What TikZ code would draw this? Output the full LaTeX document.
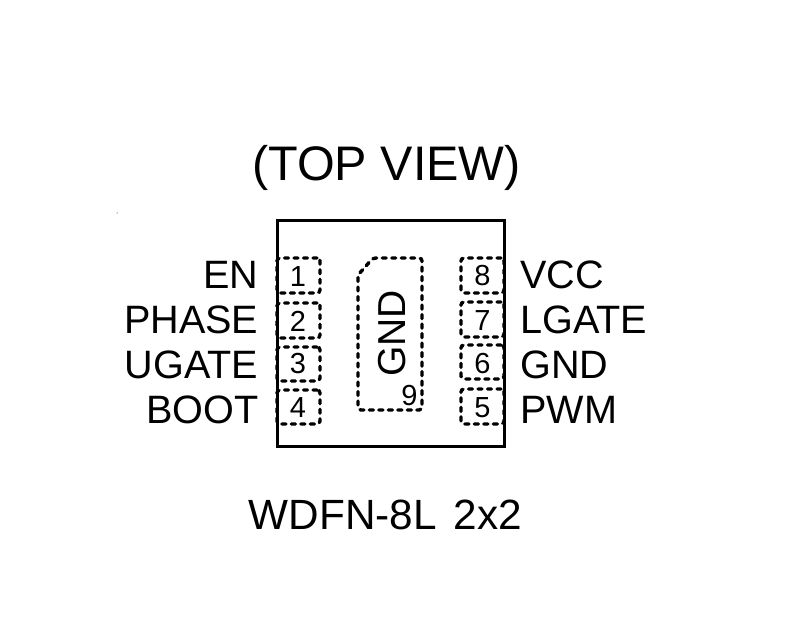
\documentclass[tikz,border=0pt]{standalone}
\usepackage{fontspec}
\setmainfont{Liberation Sans}
\tikzset{
  padbox/.style={draw,line width=3.4pt,line cap=round,dash pattern=on 4pt off 5.5pt,rounded corners=3pt,minimum width=43pt,inner sep=0pt},
  padnum/.style={font=\fontsize{29}{31}\selectfont,inner sep=0pt,anchor=base},
  lab/.style={font=\fontsize{39.6}{43}\selectfont,inner sep=0pt},
  leftlab/.style={lab,anchor=base east},
  rightlab/.style={lab,anchor=base west},
  big/.style={font=\fontsize{48.5}{52}\selectfont,inner sep=0pt,anchor=base}
}
\begin{document}
\begin{tikzpicture}[x=1pt,y=-1pt]
\useasboundingbox (0,0) rectangle (803,620);
\fill (117,213) circle (0.5pt);
% dashed pads
\node[padbox,minimum height=35pt] (p1) at (298.5,275.5) {};
\node[padbox,minimum height=35pt] (p2) at (298.5,320.5) {};
\node[padbox,minimum height=34pt] (p3) at (298.5,364) {};
\node[padbox,minimum height=34pt] (p4) at (298.5,407) {};
\node[padbox,minimum height=35pt] (p8) at (482.5,275.5) {};
\node[padbox,minimum height=35pt] (p7) at (482.5,319.5) {};
\node[padbox,minimum height=34pt] (p6) at (482.5,362) {};
\node[padbox,minimum height=35pt] (p5) at (482.5,406.5) {};
\draw[line width=3.4pt,line cap=round,dash pattern=on 4pt off 5.5pt,rounded corners=3pt]
  (358,275) -- (373,258) -- (422,258) -- (422,410) -- (358,410) -- cycle;
% package outline
\node[draw,line width=3pt,minimum width=227pt,minimum height=225pt,inner sep=0pt] (pkg) at (390.5,333.5) {};
% pad numbers
\node[padnum] (n1) at (298,286.5) {1};
\node[padnum] (n2) at (298,331.5) {2};
\node[padnum] (n3) at (298,373.5) {3};
\node[padnum] (n4) at (298,417.5) {4};
\node[padnum] (n8) at (482.5,286) {8};
\node[padnum] (n7) at (482.5,330.5) {7};
\node[padnum] (n6) at (482.5,373.5) {6};
\node[padnum] (n5) at (482.5,417.5) {5};
\node[padnum] (n9) at (409.5,405.5) {9};
\node[font=\fontsize{39}{42}\selectfont,inner sep=0pt,rotate=90] (gnd) at (392.5,333.5) {GND};
% pin labels
\node[leftlab] (en) at (258.5,289) {EN};
\node[leftlab] (phase) at (258.5,334) {PHASE};
\node[leftlab] (ugate) at (258.5,378) {UGATE};
\node[leftlab] (boot) at (258.5,423) {BOOT};
\node[rightlab] (vcc) at (520,289) {VCC};
\node[rightlab] (lgate) at (520,334) {LGATE};
\node[rightlab] (gndr) at (520,378) {GND};
\node[rightlab] (pwm) at (520,423) {PWM};
% captions
\node[big] (title) at (386.5,180.5) {(TOP VIEW)};
\node[big,font=\fontsize{42.3}{46}\selectfont] (cap) at (385.5,529) {WDFN-8L\hspace{0.4em}2x2};
\end{tikzpicture}
\end{document}
